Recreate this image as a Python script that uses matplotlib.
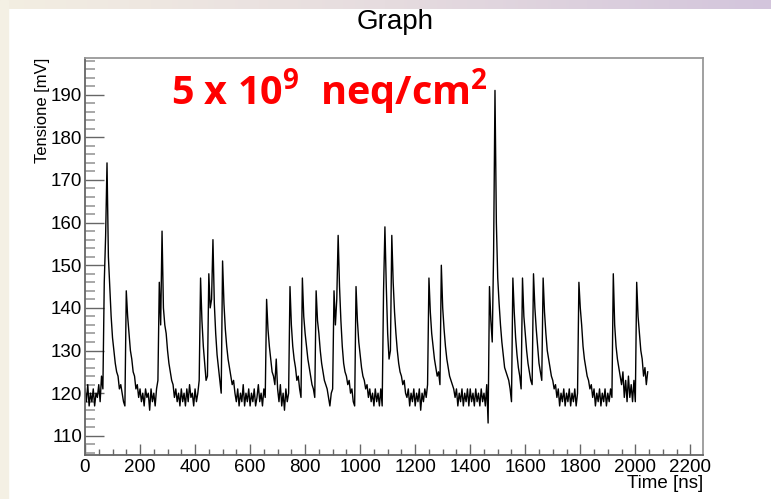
import numpy as np
import matplotlib
matplotlib.use('Agg')
import matplotlib.pyplot as plt
from matplotlib.ticker import MultipleLocator
from matplotlib.patches import Rectangle
from matplotlib.colors import LinearSegmentedColormap

plt.rcParams['font.family'] = 'Liberation Sans'
plt.rcParams['mathtext.fontset'] = 'custom'
plt.rcParams['mathtext.bf'] = 'Open Sans:bold'
plt.rcParams['mathtext.rm'] = 'Open Sans:bold'

# scope trace, one sample every 5 ns (mV)
dt = 5.0
v_0 = [121, 118, 122, 117, 120, 118, 121, 117, 120, 119, 122, 118, 124, 121, 146, 157, 174, 152, 145, 138,
       133, 130, 127, 125, 124, 121, 122, 120, 118, 117, 144, 138, 134, 130, 128, 125, 124, 121, 122, 119,
       121, 118, 120, 117, 121, 119, 120, 116, 121, 118, 120, 117, 121, 123, 146, 136, 158, 140, 136, 134,
       130, 127, 125, 123, 122, 119, 121, 118, 120, 117, 121, 118, 120, 117, 121, 118, 122, 119, 120, 117,
       121, 118, 120, 123, 147, 137, 131, 127, 123, 124, 148, 140, 142, 156, 141, 134, 129, 126, 123, 120]
v_1 = [151, 141, 135, 131, 128, 126, 124, 122, 123, 120, 118, 121, 117, 120, 118, 122, 117, 120, 118, 121,
       117, 120, 118, 121, 117, 119, 122, 118, 120, 117, 121, 119, 142, 135, 131, 128, 125, 124, 122, 128,
       121, 118, 122, 117, 120, 116, 121, 118, 120, 145, 136, 131, 128, 126, 123, 124, 121, 119, 147, 138,
       134, 131, 128, 126, 124, 122, 121, 119, 144, 137, 134, 130, 127, 125, 123, 122, 121, 119, 117, 120,
       121, 144, 136, 142, 157, 145, 137, 131, 127, 125, 124, 122, 123, 120, 121, 118, 117, 145, 137, 132]
v_2 = [129, 126, 124, 123, 121, 122, 119, 121, 118, 120, 117, 121, 118, 120, 117, 121, 117, 144, 159, 145,
       134, 128, 130, 157, 146, 139, 134, 130, 127, 125, 124, 122, 123, 120, 119, 121, 117, 120, 118, 121,
       117, 120, 118, 121, 116, 120, 118, 121, 119, 122, 147, 139, 134, 131, 128, 126, 124, 125, 122, 150,
       140, 135, 131, 128, 126, 124, 123, 122, 121, 119, 121, 117, 120, 118, 121, 117, 120, 118, 121, 117,
       121, 118, 120, 117, 121, 118, 120, 117, 121, 118, 120, 117, 122, 113, 145, 137, 132, 153, 191, 160]
v_3 = [147, 141, 136, 132, 129, 126, 125, 124, 123, 121, 118, 147, 139, 133, 129, 126, 124, 121, 147, 138,
       134, 130, 127, 125, 123, 122, 148, 140, 135, 131, 127, 125, 123, 147, 139, 134, 130, 128, 126, 124,
       123, 121, 122, 119, 121, 117, 120, 118, 121, 117, 120, 118, 121, 117, 120, 118, 121, 117, 120, 146,
       140, 136, 131, 128, 126, 124, 123, 121, 122, 119, 121, 117, 120, 118, 121, 117, 120, 118, 121, 117,
       120, 118, 121, 119, 148, 136, 131, 128, 126, 124, 122, 125, 119, 123, 118, 124, 119, 122, 118, 123,
       118, 146, 138, 134, 130, 128, 124, 126, 122, 125]

volts = np.array(v_0 + v_1 + v_2 + v_3, dtype=float)
t_ns = np.arange(len(volts)) * dt

W, H = 771, 499
fig = plt.figure(figsize=(W / 100, H / 100), dpi=100)
fig.patch.set_facecolor('white')

# slide decoration: beige strip on the left, gradient band on top
fig.patches.append(Rectangle((0, 0), 8 / W, 1, transform=fig.transFigure,
                             color='#f4f0e4', zorder=0))
band = fig.add_axes([0, 1 - 9 / H, 1, 9 / H])
grad_cmap = LinearSegmentedColormap.from_list('band', ['#f3eee2', '#e6dcdf', '#d3c5dc'])
band.imshow(np.linspace(0, 1, 256)[None, :], aspect='auto', cmap=grad_cmap)
band.axis('off')

ax = fig.add_axes([85 / W, 1 - 455 / H, (703 - 85) / W, (455 - 58) / H])
ax.plot(t_ns, volts, '-k', lw=1.0)
ax.set_xlim(0, 2246)
ax.set_ylim(105.5, 198.6)

ax.xaxis.set_major_locator(MultipleLocator(200))
ax.xaxis.set_minor_locator(MultipleLocator(50))
ax.yaxis.set_major_locator(MultipleLocator(10))
ax.yaxis.set_minor_locator(MultipleLocator(2))
ax.tick_params(axis='x', which='major', direction='in', length=8, width=1, color='#666666',
               labelsize=13.5, pad=3)
ax.tick_params(axis='x', which='minor', direction='in', length=4, width=1, color='#666666')
ax.tick_params(axis='y', which='major', direction='in', length=13.5, width=1, color='#666666',
               labelsize=13.5, pad=2)
ax.tick_params(axis='y', which='minor', direction='in', length=7, width=1.2, color='#999999')
for s in ['left', 'bottom']:
    ax.spines[s].set_color('#666666')
    ax.spines[s].set_linewidth(1.3)
for s in ['top', 'right']:
    ax.spines[s].set_color('#999999')
    ax.spines[s].set_linewidth(1.3)

fig.text(395 / W, 1 - 22 / H, 'Graph', fontsize=20, ha='center', va='center')
fig.text(42 / W, 1 - 58 / H, 'Tensione [mV]', fontsize=12, rotation=90, ha='center', va='top')
fig.text(703 / W, 1 - 484 / H, 'Time [ns]', fontsize=13.5, ha='right', va='center')
fig.text(171 / W, 1 - 105 / H, r'5 x 10$^{\mathbf{9}}$  neq/cm$^{\mathbf{2}}$',
         fontsize=28.5, color='#ff0000', fontweight='bold', family='Open Sans',
         ha='left', va='baseline')

fig.savefig('out.png', dpi=100, facecolor=fig.get_facecolor())
